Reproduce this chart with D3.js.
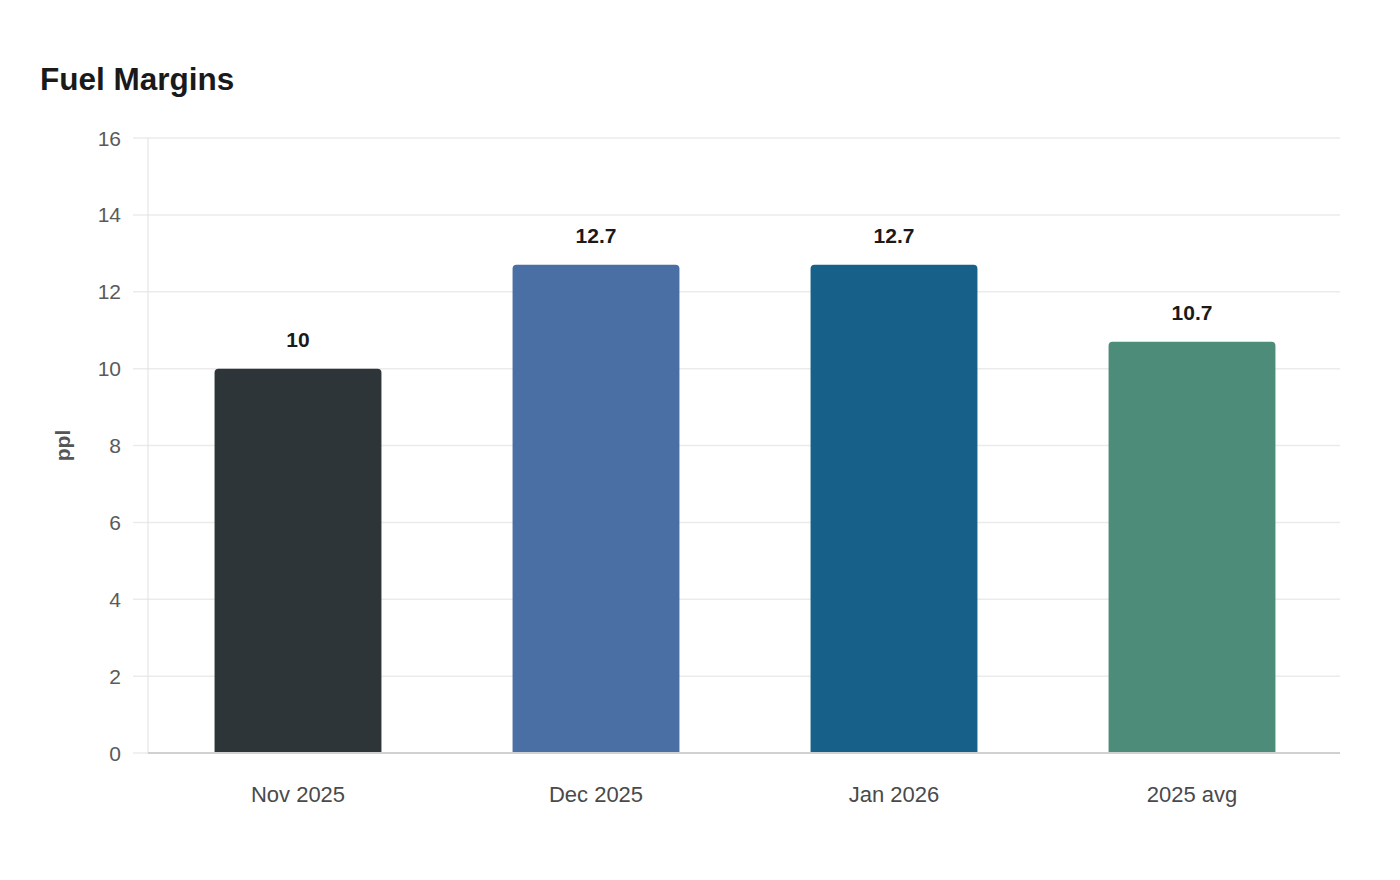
<!DOCTYPE html>
<html lang="en">
<head>
<script src="https://cdnjs.cloudflare.com/ajax/libs/d3/7.8.5/d3.min.js"></script>
<style>
body { margin: 0; background: #fff; font-family: "Liberation Sans", Arial, sans-serif; }
</style>
</head>
<body>
<script>
var categories = ["Nov 2025", "Dec 2025", "Jan 2026", "2025 avg"]
var values = [10, 12.7, 12.7, 10.7]
var colors = ["#2e3538", "#4a6fa5", "#17608a", "#4e8c7a"]
var yTicks = [0, 2, 4, 6, 8, 10, 12, 14, 16]

var w = 1400, h = 880
var mLeft = 148, mRight = 1340, mTop = 138, mBottom = 753

var svg = d3.select("body").append("svg")
    .attr("width", w).attr("height", h)

svg.append("text")
    .attr("x", 40).attr("y", 90)
    .attr("font-size", 31.5).attr("font-weight", "bold")
    .attr("fill", "#1a1a1a")
    .text("Fuel Margins")

var x = d3.scaleBand().domain(categories).range([mLeft + 1, mRight + 1]).paddingInner(0.44).paddingOuter(0.22)
var y = d3.scaleLinear().domain([0, 16]).range([mBottom, mTop])

// grid
svg.selectAll("line.grid")
    .data(yTicks)
    .enter().append("line")
    .attr("class", "grid")
    .attr("x1", mLeft - 15).attr("x2", mRight)
    .attr("y1", function(d) { return y(d) }).attr("y2", function(d) { return y(d) })
    .attr("stroke", "#ebebeb").attr("stroke-width", 1.5)

// left axis line
svg.append("line")
    .attr("x1", mLeft).attr("x2", mLeft).attr("y1", mTop).attr("y2", mBottom)
    .attr("stroke", "#e0e0e0").attr("stroke-width", 1)

svg.selectAll("text.ytick")
    .data(yTicks)
    .enter().append("text")
    .attr("class", "ytick")
    .attr("x", 121).attr("y", function(d) { return y(d) + 7.5 })
    .attr("text-anchor", "end").attr("font-size", 21).attr("fill", "#5a5a5a")
    .text(function(d) { return d })

svg.append("text")
    .attr("transform", "translate(70," + ((mTop + mBottom) / 2) + ") rotate(-90)")
    .attr("text-anchor", "middle").attr("font-size", 21).attr("font-weight", "bold")
    .attr("fill", "#555")
    .text("ppl")

// bars, rounded top corners
var r = 4
svg.selectAll("path.bar")
    .data(values)
    .enter().append("path")
    .attr("class", "bar")
    .attr("d", function(d, i) {
        var x0 = x(categories[i]), x1 = x0 + x.bandwidth(), y0 = y(d), y1 = y(0)
        return "M" + x0 + "," + y1 + "L" + x0 + "," + (y0 + r) +
            "Q" + x0 + "," + y0 + " " + (x0 + r) + "," + y0 +
            "L" + (x1 - r) + "," + y0 +
            "Q" + x1 + "," + y0 + " " + x1 + "," + (y0 + r) +
            "L" + x1 + "," + y1 + "Z"
    })
    .attr("fill", function(d, i) { return colors[i] })

svg.selectAll("text.val")
    .data(values)
    .enter().append("text")
    .attr("class", "val")
    .attr("x", function(d, i) { return x(categories[i]) + x.bandwidth() / 2 })
    .attr("y", function(d) { return y(d) - 22 })
    .attr("text-anchor", "middle").attr("font-size", 21).attr("font-weight", "bold")
    .attr("fill", "#1a1a1a")
    .text(function(d) { return d })

// bottom axis line
svg.append("line")
    .attr("x1", mLeft).attr("x2", mRight).attr("y1", mBottom).attr("y2", mBottom)
    .attr("stroke", "#d0d0d0").attr("stroke-width", 2)

svg.selectAll("text.xlab")
    .data(categories)
    .enter().append("text")
    .attr("class", "xlab")
    .attr("x", function(d) { return x(d) + x.bandwidth() / 2 })
    .attr("y", 802)
    .attr("text-anchor", "middle").attr("font-size", 22).attr("fill", "#4a4a4a")
    .text(function(d) { return d })
</script>
</body>
</html>
